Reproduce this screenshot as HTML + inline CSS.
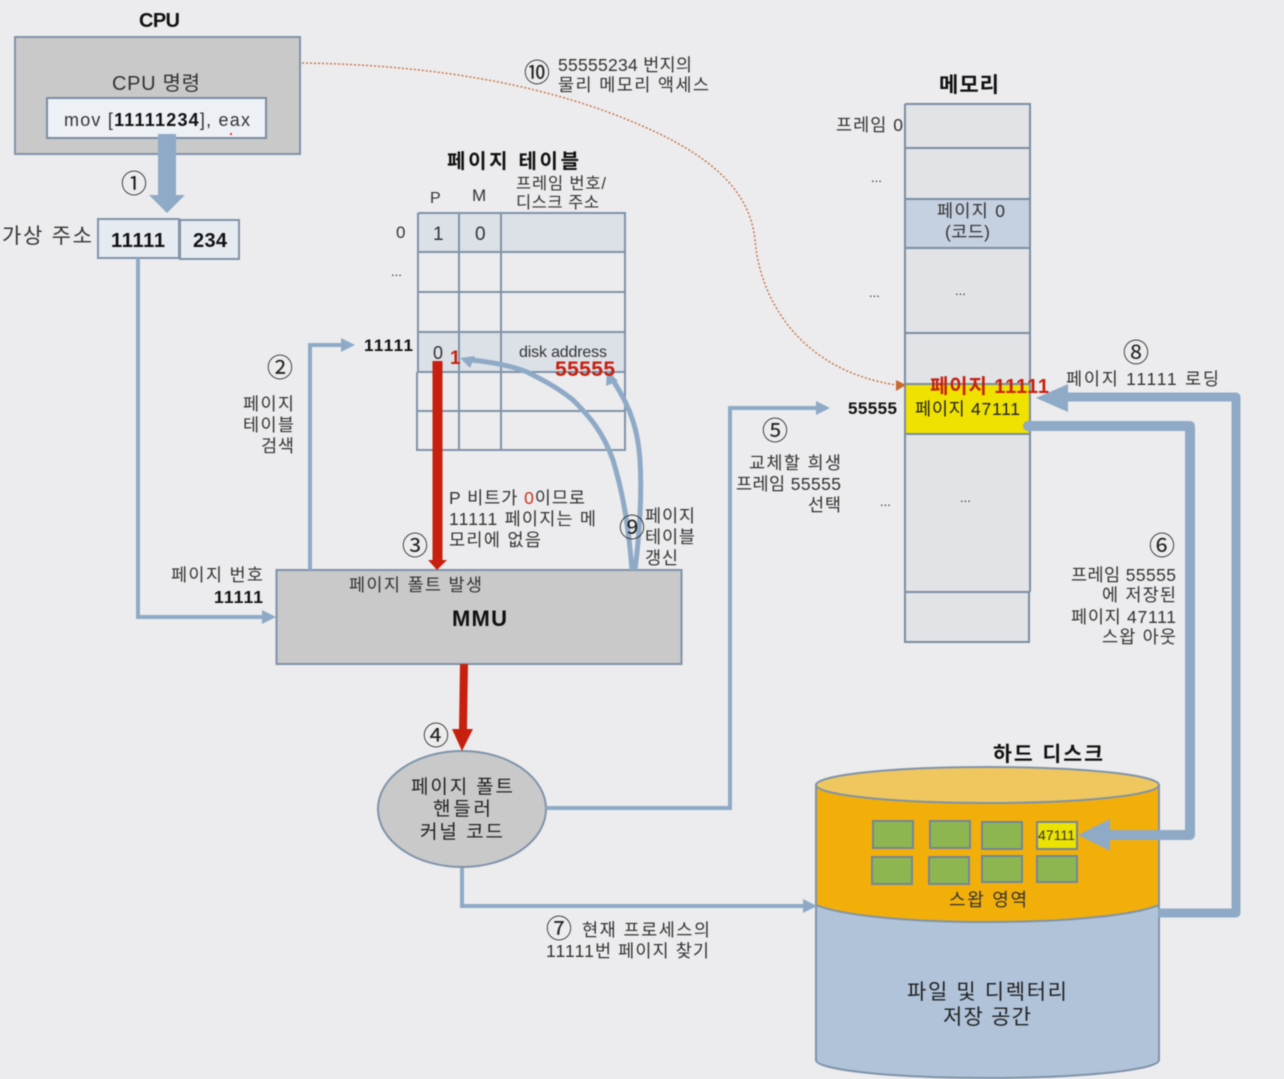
<!DOCTYPE html>
<html><head><meta charset="utf-8"><style>
html,body{margin:0;padding:0;background:#ececee}
svg{display:block;filter:blur(.4px)}
text{font-family:"Liberation Sans","Noto Sans CJK KR",sans-serif;fill:#333;font-size:18px}
.b{font-weight:700;fill:#111}
.r{font-weight:700;fill:#c8200f}
.c{font-size:26px;fill:#222}
</style></head><body>
<svg width="1284" height="1079" viewBox="0 0 1284 1079" xmlns="http://www.w3.org/2000/svg">
<rect width="1284" height="1079" fill="#ececee"/>

<!-- CPU -->
<rect x="15" y="37" width="285" height="117" fill="#c9c9c9" stroke="#8094aa" stroke-width="2"/>
<rect x="47" y="98" width="219" height="40" fill="#edf0f5" stroke="#7b8ea3" stroke-width="2"/>
<circle cx="231" cy="134" r="1" fill="#e00"/>

<!-- arrow 1 -->
<polygon points="158,134 176,134 176,195 185,195 167,213 149,195 158,195" fill="#8faac6"/>

<!-- Virtual address -->
<rect x="98" y="219" width="81" height="39" fill="#e6ebf2" stroke="#7f93a9" stroke-width="2"/>
<rect x="180" y="220" width="59" height="39" fill="#e6ebf2" stroke="#7f93a9" stroke-width="2"/>

<!-- Page table -->
<g fill="#dce1e8">
<rect x="418" y="213" width="207" height="39"/>
<rect x="418" y="332" width="207" height="40"/>
</g>
<g stroke="#7f93a9" stroke-width="2" fill="none">
<path d="M418 213H625V450H417V372M418 372V213M418 252H625M418 292H625M418 332H625M417 372H625M417 411H625M459 213V450M501 213V450"/>
</g>

<!-- Memory -->
<rect x="905" y="104" width="125" height="538" fill="#e2e3e6"/>
<rect x="905" y="199" width="125" height="49" fill="#c5d1e0"/>
<rect x="905" y="384" width="125" height="50" fill="#efe200"/>
<g stroke="#7a8da3" stroke-width="2" fill="none">
<path d="M905 104H1030V592M905 104V642H1029V592H905M905 148H1030M905 199H1030M905 248H1030M905 333H1030M905 384H1030M905 434H1030"/>
</g>

<!-- MMU -->
<rect x="276.500" y="570" width="405" height="94" fill="#c9c9c9" stroke="#7f93a9" stroke-width="2"/>

<!-- Handler ellipse -->
<ellipse cx="462" cy="809" rx="84" ry="58" fill="#c9c9c9" stroke="#7f93a9" stroke-width="2"/>

<!-- Disk -->
<path d="M816 905V1060C816 1070 893 1078 987 1078S1159 1070 1159 1060V905Z" fill="#b0c3d9" stroke="#7f93a9" stroke-width="2"/>
<path d="M816 785V905C840 915 905 922 987 922S1135 915 1159 905V785Z" fill="#f2af0a" stroke="#7f93a9" stroke-width="2"/>
<ellipse cx="987.500" cy="785" rx="171.500" ry="18" fill="#f0c75f" stroke="#7f93a9" stroke-width="2"/>

<g fill="#8db650" stroke="#73869b" stroke-width="2">
<rect x="873" y="821" width="40" height="27"/>
<rect x="930" y="821" width="40" height="27"/>
<rect x="982" y="822" width="40" height="27"/>
<rect x="872" y="857" width="40" height="27"/>
<rect x="929" y="857" width="40" height="27"/>
<rect x="982" y="856" width="40" height="26"/>
<rect x="1037" y="856" width="40" height="26"/>
</g>
<rect x="1037" y="822" width="40" height="27" fill="#ece200" stroke="#73869b" stroke-width="2"/>

<!-- Blue connectors -->
<g fill="none" stroke="#8faac6" stroke-width="4">
<path d="M138 258V617H264"/>
<path d="M310 570V345H342"/>
<path d="M546 808H730V408H816"/>
<path d="M462 868V906H804"/>
</g>
<g fill="none" stroke="#8faac6" stroke-width="5">
<path d="M632 570C628 520 622 490 613 460C603 432 590 417 573 400C558 388 545 381 527 372C510 365 490 362 472 360"/>
<path d="M635 570C640 530 642 495 640 460C638 432 632 410 614 382"/>
</g>
<g fill="#8faac6">
<polygon points="355,345 341,338 341,352"/>
<polygon points="276,617 262,610 262,624"/>
<polygon points="830,408 816,401 816,415"/>
<polygon points="817,906 803,899 803,913"/>
<polygon points="460,358 475,356 470,368"/>
<polygon points="607,370 618,381 606,386"/>
</g>
<!-- thick loops -->
<path d="M1028 426H1190V835H1105" fill="none" stroke="#8faac6" stroke-width="10" stroke-linejoin="round" stroke-linecap="round"/>
<polygon points="1078,835 1110,819 1110,851" fill="#8faac6"/>
<path d="M1158 913H1236V397H1066" fill="none" stroke="#8faac6" stroke-width="9" stroke-linejoin="round"/>
<polygon points="1036,398 1068,384 1068,412" fill="#8faac6"/>

<!-- Red arrows -->
<rect x="432.500" y="361" width="10" height="200" fill="#c8200f"/>
<polygon points="428,560 447,560 437,570" fill="#c8200f"/>
<polygon points="460,664 468,664 467,729 473,729 462,751 452,729 459,729" fill="#c8200f"/>

<!-- Dotted curve -->
<path d="M302 63C450 65 560 90 640 125C710 155 750 190 755 240C760 300 800 370 896 385" fill="none" stroke="#c9764a" stroke-width="1.500" stroke-dasharray="2 2"/>
<polygon points="906,385 896,380 896,391" fill="#c9692e"/>

<!-- Text -->
<text x="139" y="27" class="b" style="font-size:20px" textLength="41">CPU</text>
<text x="112" y="90" style="font-size:20px" textLength="88">CPU 명령</text>
<text x="64" y="126" style="font-size:18px" textLength="186">mov [<tspan class="b">11111234</tspan>], eax</text>
<text x="121" y="193" class="c" textLength="25">①</text>
<text x="2" y="243" style="font-size:21px" textLength="90">가상 주소</text>
<text x="111" y="247" class="b" style="font-size:20px" textLength="54">11111</text>
<text x="193" y="247" class="b" style="font-size:20px" textLength="34">234</text>

<text x="447" y="168" class="b" style="font-size:20px" textLength="132">페이지 테이블</text>
<text x="430" y="203" style="font-size:16px">P</text>
<text x="472" y="201" style="font-size:17px">M</text>
<text x="516" y="189" style="font-size:16.500px" textLength="90">프레임 번호/</text>
<text x="516" y="208" style="font-size:16.500px" textLength="83">디스크 주소</text>
<text x="396" y="238" style="font-size:17px">0</text>
<text x="391" y="276" style="font-size:13px">...</text>
<text x="433" y="240" style="font-size:19px">1</text>
<text x="475" y="240" style="font-size:19px">0</text>
<text x="364" y="351" class="b" style="font-size:17px" textLength="49">11111</text>
<text x="433" y="359" style="font-size:18px">0</text>
<text x="450" y="364" class="r" style="font-size:19px">1</text>
<text x="519" y="357" style="font-size:16px" textLength="88">disk address</text>
<text x="555" y="376" class="r" style="font-size:21px" textLength="60">55555</text>

<text x="524" y="82" class="c" textLength="25">⑩</text>
<text x="558" y="71" style="font-size:17.500px" textLength="134">55555234 번지의</text>
<text x="558" y="91" style="font-size:17.500px" textLength="151">물리 메모리 액세스</text>

<text x="939" y="92" class="b" style="font-size:21px" textLength="60">메모리</text>
<text x="836" y="131" style="font-size:17.500px" textLength="67">프레임 0</text>
<text x="871" y="182" style="font-size:13px">...</text>
<text x="937" y="217" style="font-size:17.500px" textLength="68">페이지 0</text>
<text x="945" y="238" style="font-size:17.500px" textLength="45">(코드)</text>
<text x="869" y="297" style="font-size:13px">...</text>
<text x="955" y="295" style="font-size:13px">...</text>
<text x="880" y="506" style="font-size:13px">...</text>
<text x="960" y="502" style="font-size:13px">...</text>
<text x="930" y="393" class="r" style="font-size:20px" textLength="119">페이지 11111</text>
<text x="915" y="415" style="font-size:17.500px;fill:#222" textLength="105">페이지 47111</text>
<text x="848" y="414" class="b" style="font-size:17px" textLength="49">55555</text>

<text x="1123" y="362" class="c" textLength="25">⑧</text>
<text x="1066" y="385" style="font-size:17.500px" textLength="153">페이지 11111  로딩</text>
<text x="762" y="440" class="c" textLength="25">⑤</text>
<text x="749" y="469" style="font-size:17.500px" textLength="92">교체할 희생</text>
<text x="736" y="490" style="font-size:17.500px" textLength="105">프레임 55555</text>
<text x="808" y="511" style="font-size:17.500px" textLength="33">선택</text>

<text x="1149" y="555" class="c" textLength="25">⑥</text>
<text x="1071" y="581" style="font-size:17.500px" textLength="105">프레임 55555</text>
<text x="1102" y="601" style="font-size:17.500px" textLength="74">에 저장된</text>
<text x="1071" y="623" style="font-size:17.500px" textLength="105">페이지 47111</text>
<text x="1102" y="643" style="font-size:17.500px" textLength="74">스왑 아웃</text>

<text x="267" y="377" class="c" textLength="25">②</text>
<text x="243" y="410" style="font-size:17.500px" textLength="51">페이지</text>
<text x="243" y="431" style="font-size:17.500px" textLength="51">테이블</text>
<text x="261" y="452" style="font-size:17.500px" textLength="33">검색</text>
<text x="171" y="581" style="font-size:17.500px" textLength="92">페이지 번호</text>
<text x="214" y="603" class="b" style="font-size:17.500px" textLength="49">11111</text>

<text x="449" y="504" style="font-size:17.500px" textLength="136">P 비트가 <tspan style="fill:#d0321f">0</tspan>이므로</text>
<text x="449" y="525" style="font-size:17.500px" textLength="147">11111 페이지는 메</text>
<text x="449" y="546" style="font-size:17.500px" textLength="92">모리에 없음</text>
<text x="402" y="555" class="c" textLength="25">③</text>
<text x="619" y="537" class="c" textLength="25">⑨</text>
<text x="645" y="522" style="font-size:17.500px" textLength="50">페이지</text>
<text x="645" y="543" style="font-size:17.500px" textLength="50">테이블</text>
<text x="645" y="564" style="font-size:17.500px" textLength="33">갱신</text>
<text x="349" y="591" style="font-size:17.500px" textLength="133">페이지 폴트 발생</text>
<text x="452" y="626" class="b" style="font-size:22px" textLength="55">MMU</text>
<text x="423" y="745" class="c" textLength="25">④</text>

<text x="411" y="793" style="font-size:19px;fill:#222" textLength="102">페이지 폴트</text>
<text x="433" y="815" style="font-size:19px;fill:#222" textLength="58">핸들러</text>
<text x="420" y="838" style="font-size:19px;fill:#222" textLength="83">커널 코드</text>

<text x="546" y="938" class="c" textLength="25">⑦</text>
<text x="582" y="936" style="font-size:17.500px" textLength="128">현재 프로세스의</text>
<text x="546" y="957" style="font-size:17.500px" textLength="163">11111번 페이지 찾기</text>

<text x="993" y="761" class="b" style="font-size:20.500px" textLength="110">하드 디스크</text>
<text x="1038" y="840" style="font-size:14px;fill:#333" textLength="37">47111</text>
<text x="949" y="906" style="font-size:18px" textLength="78">스왑 영역</text>
<text x="907" y="999" style="font-size:21px;fill:#222" textLength="160">파일 및 디렉터리</text>
<text x="943" y="1024" style="font-size:21px;fill:#222" textLength="88">저장 공간</text>
</svg>
</body></html>
